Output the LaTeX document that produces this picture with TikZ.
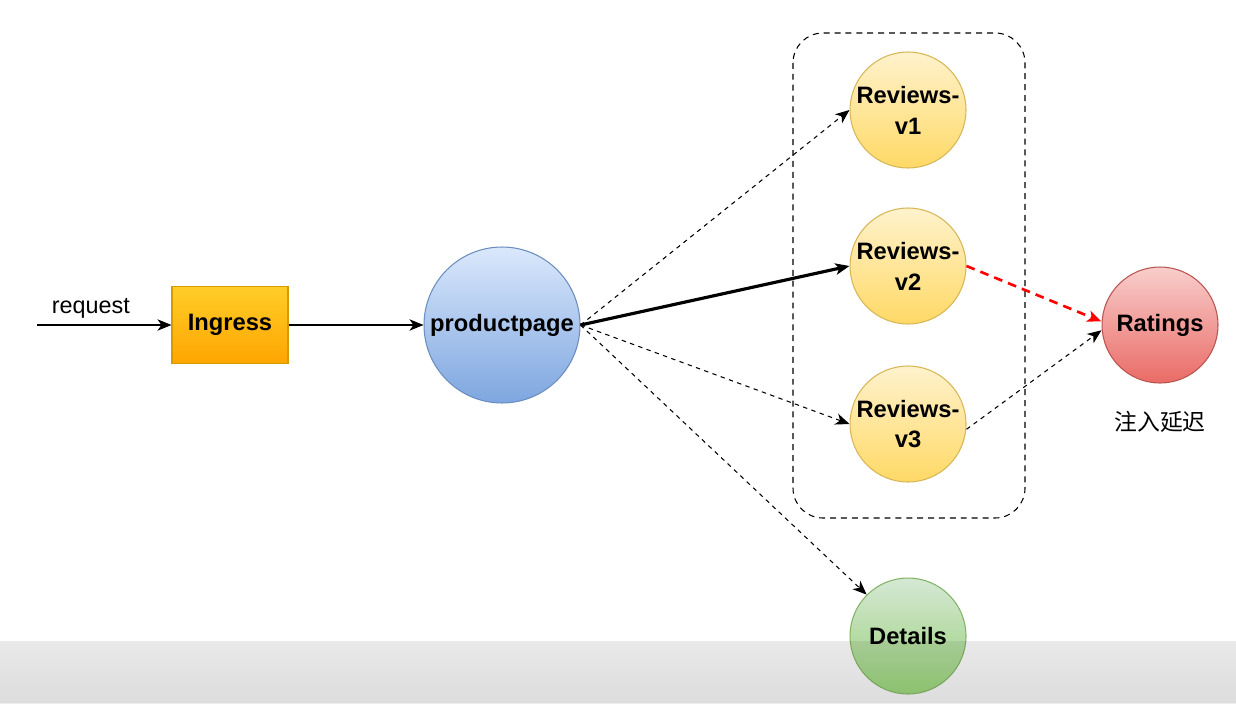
\documentclass[tikz,border=0pt]{standalone}
\usepackage{fontspec}
\setmainfont{Liberation Sans}
\newfontfamily\cjk{Noto Sans CJK SC}
\usetikzlibrary{arrows.meta}

\definecolor{ingtop}{HTML}{FFCD28}
\definecolor{ingbot}{HTML}{FFA500}
\definecolor{ingline}{HTML}{D79B00}
\definecolor{pptop}{HTML}{DAE8FC}
\definecolor{ppbot}{HTML}{7EA6E0}
\definecolor{ppline}{HTML}{6C8EBF}
\definecolor{revtop}{HTML}{FFF2CC}
\definecolor{revbot}{HTML}{FFD966}
\definecolor{revline}{HTML}{D6B656}
\definecolor{rattop}{HTML}{F8CECC}
\definecolor{ratbot}{HTML}{EA6B66}
\definecolor{ratline}{HTML}{B85450}
\definecolor{dettop}{HTML}{D5E8D4}
\definecolor{detbot}{HTML}{97D077}
\definecolor{detline}{HTML}{82B366}
\definecolor{bandtop}{HTML}{FBFBFB}
\definecolor{bandbot}{HTML}{EEEEEE}

\begin{document}
\begin{tikzpicture}[x=0.02cm, y=-0.02cm, >={Stealth[length=8pt,width=6.5pt,inset=2.3pt]},
  font=\fontsize{13.3}{17.6}\selectfont,
  svc/.style={circle, minimum size=2.32cm, inner sep=0pt, align=center, font=\fontsize{13.5}{17.6}\selectfont\bfseries, line width=0.6pt},
  hop/.style={->, line width=0.6pt, dash pattern=on 2.5pt off 2.5pt}]

\useasboundingbox (0,0) rectangle (1236,703);

\shade[top color=bandtop, bottom color=bandbot] (0,641) rectangle (1236,703);

\coordinate (src) at (37,325);

\draw[line width=0.6pt, dash pattern=on 3.4pt off 2.8pt, rounded corners=17pt] (793,33) rectangle (1025,518);

\node[draw=ingline, top color=ingtop, bottom color=ingbot, line width=0.6pt,
  minimum width=2.32cm, minimum height=1.54cm, font=\fontsize{13.5}{15}\selectfont\bfseries] (ig) at (230,325) {Ingress};
\node[svc, draw=ppline, top color=pptop, bottom color=ppbot, minimum size=3.12cm] (pp) at (502,325) {productpage};
\node[svc, draw=revline, top color=revtop, bottom color=revbot] (r1) at (908,110) {Reviews-\\v1};
\node[svc, draw=revline, top color=revtop, bottom color=revbot] (r2) at (908,266) {Reviews-\\v2};
\node[svc, draw=revline, top color=revtop, bottom color=revbot] (r3) at (908,424) {Reviews-\\v3};
\node[svc, draw=ratline, top color=rattop, bottom color=ratbot] (rt) at (1160,325) {Ratings};
\node[svc, draw=detline, top color=dettop, bottom color=detbot] (dt) at (908,636) {Details};
\node[font=\cjk\fontsize{13}{15}\selectfont] (delay) at (1160,422) {注入延迟};

\draw[->, line width=0.6pt] (src) -- node[above, pos=0.4] {request} (ig.west);
\draw[->, line width=0.6pt] (ig.east) -- (pp.west);
\draw[hop] (pp.east) -- (r1.west);
\draw[->, line width=1.8pt, >={Stealth[length=8pt,width=6.5pt,inset=2pt]}] (pp.east) -- (r2.west);
\draw[hop] (pp.east) -- (r3.west);
\draw[hop] (pp.east) -- (dt.north west);
\draw[->, red, line width=1.5pt, dash pattern=on 5pt off 3.5pt, >={Stealth[length=8pt,width=6.5pt,inset=2pt]}] (r2.east) -- ([yshift=2pt]rt.west);
\draw[hop] ([yshift=-3pt]r3.east) -- ([yshift=-3pt]rt.west);

\fill[black, fill opacity=0.07] (0,641) rectangle (1236,703);

\end{tikzpicture}
\end{document}
